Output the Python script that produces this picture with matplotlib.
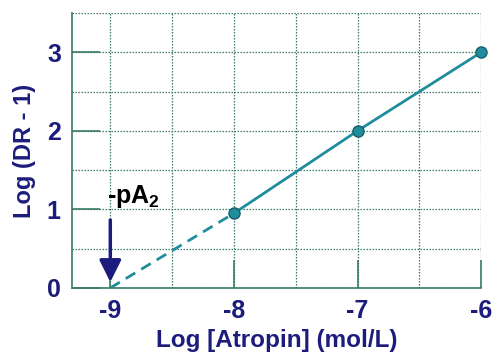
import matplotlib.pyplot as plt

plt.rcParams['font.family'] = ['Liberation Sans', 'DejaVu Sans']
plt.rcParams['axes.unicode_minus'] = False
plt.rcParams['mathtext.fontset'] = 'custom'
plt.rcParams['mathtext.rm'] = 'Liberation Sans:bold'
plt.rcParams['mathtext.bf'] = 'Liberation Sans:bold'

# data
conc = [-8, -7, -6]
log_dr = [0.95, 2.0, 3.0]
extrap_x = [-9, -8]
extrap_y = [0.0, 0.95]
x_ticks = [-9, -8, -7, -6]
y_ticks = [0, 1, 2, 3]

navy = '#1c1c7c'
teal = '#1f8d9b'
gridc = '#3a7a68'

fig = plt.figure(figsize=(4.93, 3.52), dpi=100)
ax = fig.add_axes([0.146, 0.182, 0.830, 0.781])

ax.plot(extrap_x, extrap_y, color=teal, lw=2, ls=(0, (4, 2.5)))
ax.plot(conc, log_dr, color=teal, lw=2, marker='o', ms=8,
        mfc=teal, mec='#17606b', mew=1, clip_on=False, zorder=5)

ax.set_xlim(-9.31, -6)
ax.set_ylim(0, 3.5)
ax.set_xticks(x_ticks)
ax.set_yticks(y_ticks)
ax.set_xticks([-8.5, -7.5, -6.5], minor=True)
ax.set_yticks([0.5, 1.5, 2.5, 3.5], minor=True)
ax.grid(True, which='both', color=gridc, ls=(0, (1.2, 1.2)), lw=0.9)
ax.set_axisbelow(True)

ax.tick_params(which='major', direction='in', length=20, width=1.2, color=gridc,
               labelsize=18, labelcolor=navy, pad=8)
ax.tick_params(which='minor', length=0)
for lab in ax.get_xticklabels() + ax.get_yticklabels():
    lab.set_fontweight('bold')

ax.spines['top'].set_visible(False)
ax.spines['right'].set_visible(False)
ax.spines['left'].set_color(gridc)
ax.spines['bottom'].set_color(gridc)
ax.spines['left'].set_linewidth(1.2)
ax.spines['bottom'].set_linewidth(1.2)

ax.set_xlabel('Log [Atropin] (mol/L)', fontsize=17.5, fontweight='bold', color=navy, labelpad=4)
ax.set_ylabel('Log (DR - 1)', fontsize=17, fontweight='bold', color=navy, labelpad=8)

ax.annotate('', xy=(-9, 0.04), xytext=(-9, 0.9),
            arrowprops=dict(arrowstyle='-|>,head_length=0.6,head_width=0.3',
                            color=navy, lw=2.5, mutation_scale=22))
ax.text(-9.03, 1.17, '-pA$_\\mathbf{2}$', fontsize=18, fontweight='bold', color='black',
        ha='left', va='center')

fig.savefig('out.png', dpi=100)
